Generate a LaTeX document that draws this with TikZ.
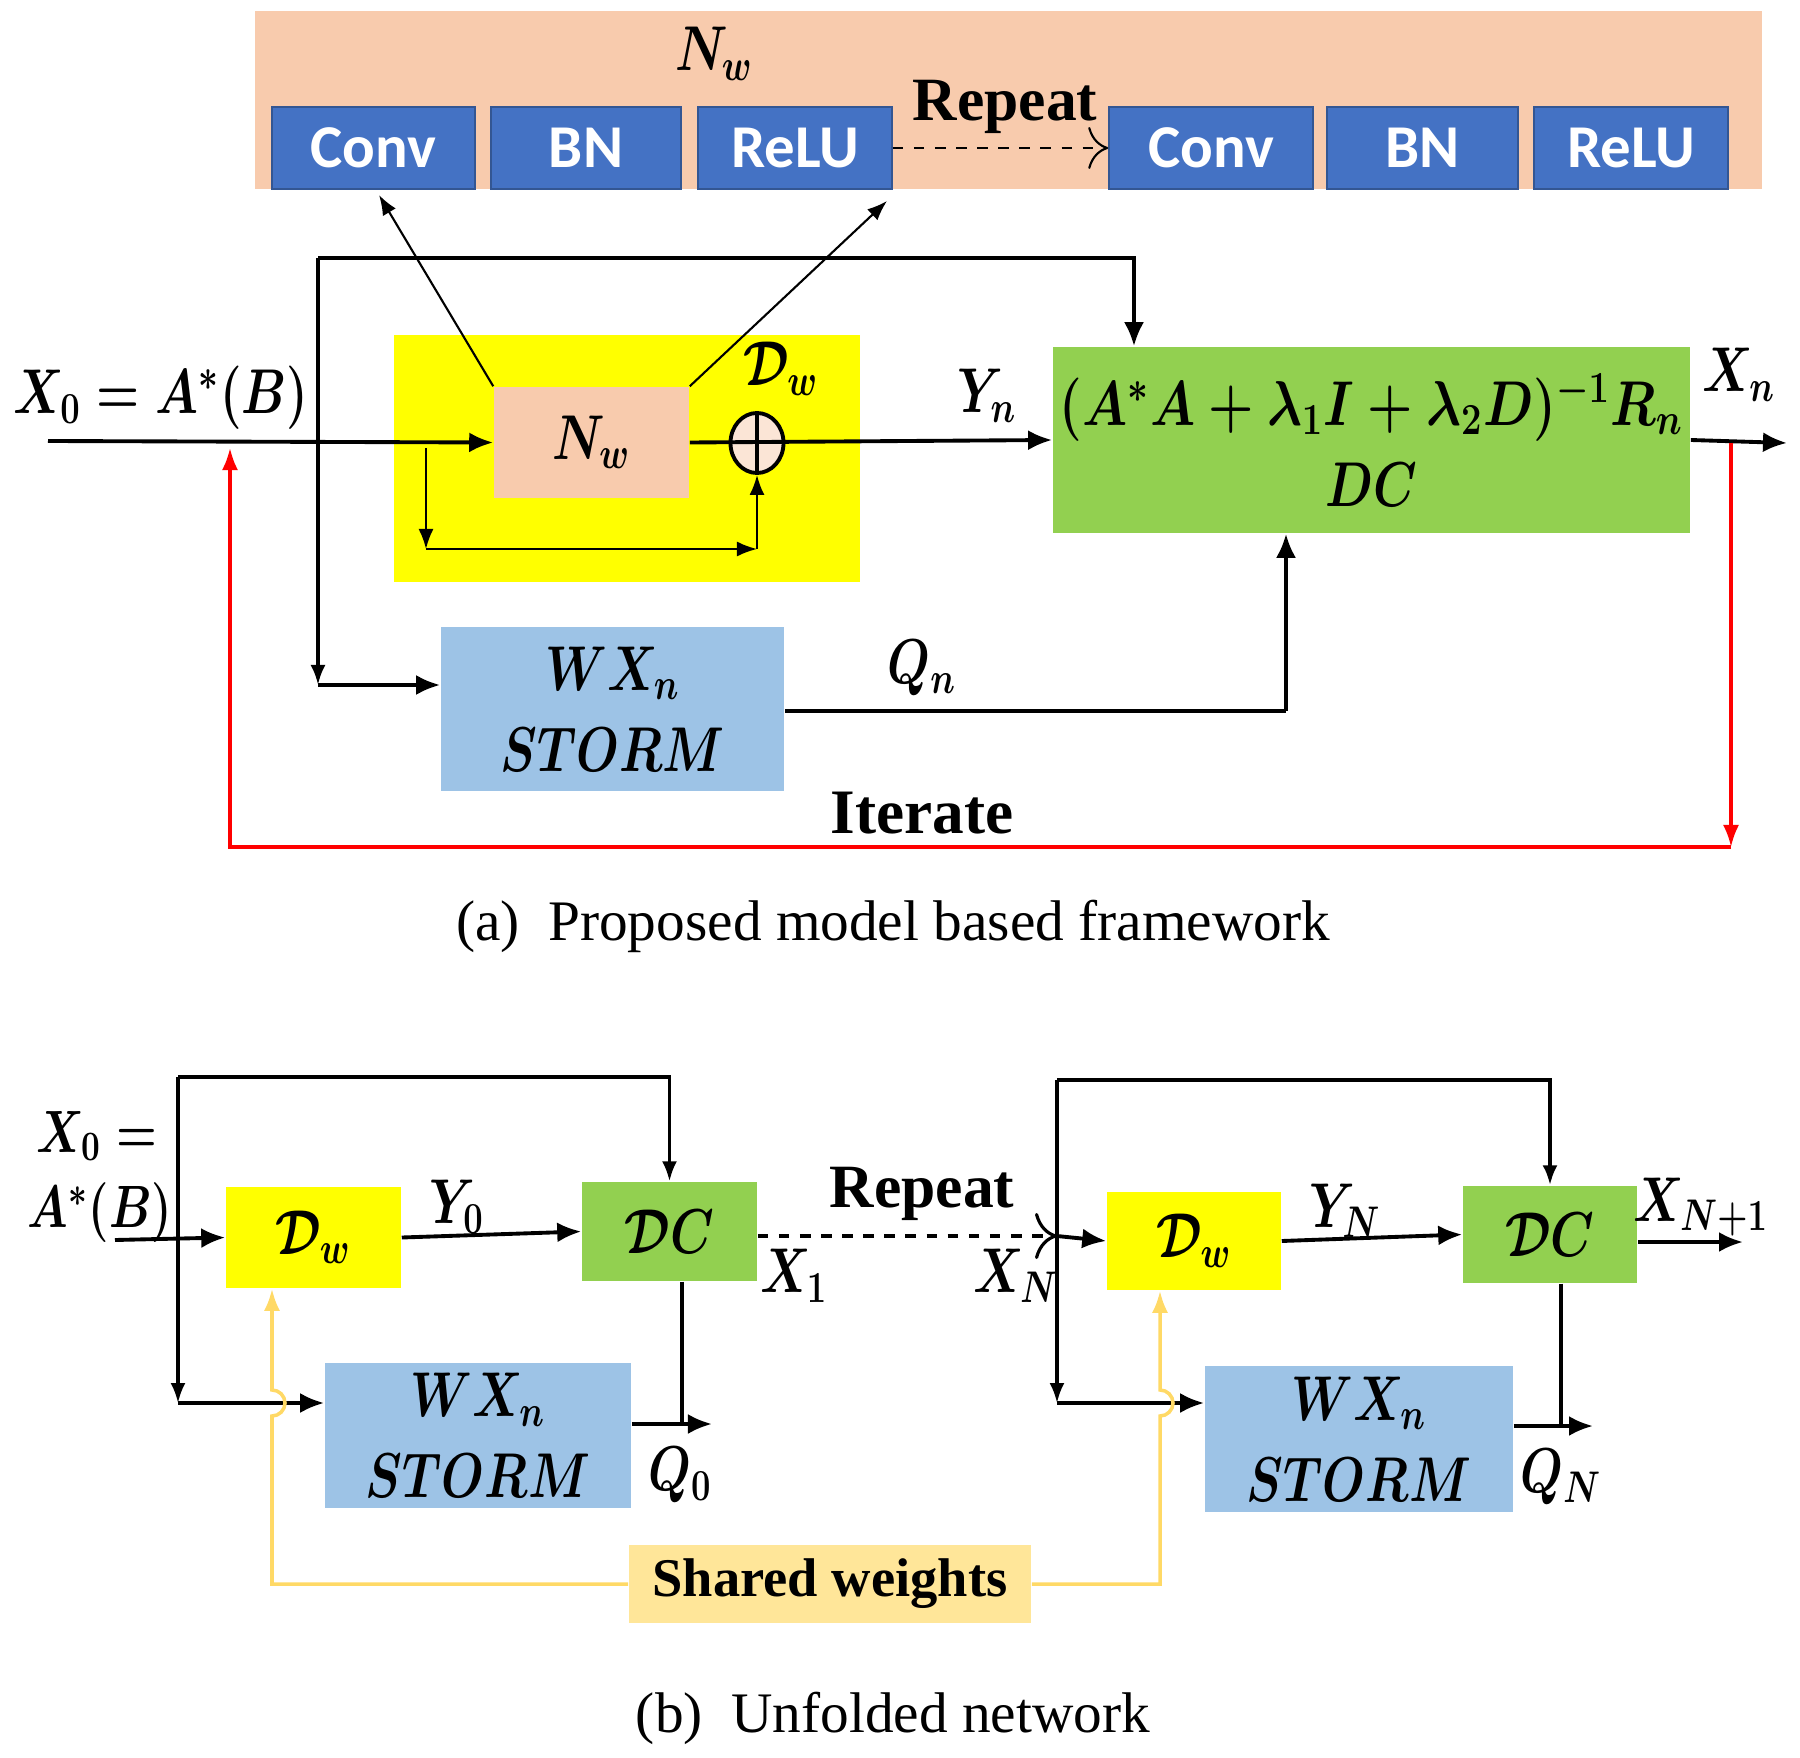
\RequirePackage{fix-cm}
\documentclass[tikz,border=0pt]{standalone}
\usepackage{fontspec}
\setmainfont{Liberation Serif}
\newfontfamily\calibri{Carlito}
\usetikzlibrary{arrows.meta,shapes.geometric,calc}
\definecolor{peach}{HTML}{F8CBAD}
\definecolor{convblue}{HTML}{4472C4}
\definecolor{dwyellow}{HTML}{FFFF00}
\definecolor{dcgreen}{HTML}{92D050}
\definecolor{stormblue}{HTML}{9DC3E6}
\definecolor{shareline}{HTML}{FFD966}
\definecolor{sharefill}{HTML}{FFE699}
\definecolor{pluspeach}{HTML}{FBE5D6}
\newcommand{\slim}[1]{\scalebox{0.78}[1]{#1}}
\begin{document}
\begin{tikzpicture}[x=0.01cm, y=-0.01cm,
  layer/.style={rectangle, fill=convblue, draw=convblue!75!black, minimum height=0.82cm, text=white, font=\calibri\bfseries\fontsize{17.3}{20}\selectfont},
  block/.style={rectangle, align=center, inner sep=0pt, font=\fontsize{18}{23}\selectfont\boldmath},
  lbl/.style={inner sep=1pt, font=\fontsize{18}{19}\selectfont\boldmath},
  word/.style={inner sep=1pt, font=\bfseries\fontsize{17.5}{20}\selectfont},
  captext/.style={inner sep=1pt, font=\fontsize{16.3}{19}\selectfont},
  arr/.style={line width=1.1pt, -{Latex[length=2.4mm,width=2mm]}},
  fine/.style={line width=0.6pt, -{Latex[length=2mm,width=1.5mm]}},
  iter/.style={red, line width=0.9pt, -{Latex[length=2.2mm,width=1.6mm]}},
  share/.style={shareline, line width=1pt, -{Latex[length=2.2mm,width=1.6mm]}}]
\useasboundingbox (0,0) rectangle (1800,1758);

% (a) proposed framework
\node (band) [rectangle, fill=peach, minimum width=15.07cm, minimum height=1.78cm] at (1008.5,100) {};
\node (conv1) [layer, minimum width=2.03cm] at (373.5,148) {Conv};
\node (bn1) [layer, minimum width=1.90cm] at (586,148) {BN};
\node (relu1) [layer, minimum width=1.94cm] at (795,148) {ReLU};
\node (conv2) [layer, minimum width=2.04cm] at (1211,148) {Conv};
\node (bn2) [layer, minimum width=1.91cm] at (1422.5,148) {BN};
\node (relu2) [layer, minimum width=1.94cm] at (1631,148) {ReLU};
\node (nwlbl) [lbl] at (714,54) {\slim{$N_w$}};
\node (rep1) [word] at (1005,107) {Repeat};
\draw[fine, dashed, -{To[length=2mm]}] (relu1.east) -- (conv2.west);

\node (dwbox) [rectangle, fill=dwyellow, minimum width=4.66cm, minimum height=2.47cm] at (627,458.5) {};
\node (nw) [block, fill=peach, minimum width=1.95cm, minimum height=1.11cm] at (591.5,442.5) {\slim{$N_w$}};
\node (oplus) [ellipse, draw, line width=1.1pt, fill=pluspeach, minimum width=0.53cm, minimum height=0.6cm, inner sep=0pt,
  path picture={\draw[line width=1pt] (path picture bounding box.north) -- (path picture bounding box.south);}] at (757,443) {};
\node (dwlbl) [lbl] at (781,369) {\slim{$\mathcal{D}_w$}};
\node (dc) [block, fill=dcgreen, minimum width=6.37cm, minimum height=1.86cm] at (1371.5,440)
  {\scalebox{0.82}[1]{$(A^*A+\lambda_1 I+\lambda_2 D)^{-1}R_n$}\\\slim{$DC$}};
\node (storm) [block, fill=stormblue, minimum width=3.43cm, minimum height=1.64cm] at (612.5,709) {\slim{$WX_n$}\\\slim{$STORM$}};

\node (x0lbl) [lbl] at (161,398) {\slim{$X_0=A^*(B)$}};
\node (ynlbl) [lbl] at (987,396) {\slim{$Y_n$}};
\node (xnlbl) [lbl] at (1739,375) {\slim{$X_n$}};
\node (qnlbl) [lbl] at (922,668) {\slim{$Q_n$}};
\node (iterlbl) [word, font=\bfseries\fontsize{18}{20}\selectfont] at (922,813) {Iterate};
\node (capa) [captext] at (893,926) {(a)\enspace Proposed model based framework};

\coordinate (in0) at (48,441);
\coordinate (fb) at (318,258);
\coordinate (fbs) at (318,685);
\coordinate (dcin) at (1134,258);
\coordinate (sk0) at (426,448);
\coordinate (sk) at (426,549);
\coordinate (cvtip) at (379,195);
\coordinate (relutip) at (887,201);
\coordinate (qx) at (1286,711);
\coordinate (xend) at (1787,443);
\coordinate (rr) at (1731,443);
\coordinate (rbot) at (1731,847);
\coordinate (rl) at (230,448);

\draw[arr] (in0) -- (nw.west);
\draw[arr] (nw.east) -- (dc.west);
\draw[arr] (dc.east) -- (xend);
\draw[fine] (nw.north west) -- (cvtip);
\draw[fine] (nw.north east) -- (relutip);
\draw[fine] (sk0) -- (sk);
\draw[fine] (sk) -- (sk -| oplus);
\draw[fine] (sk -| oplus) -- (oplus.south);
\draw[arr] (fb) -- (dcin) -- (dc.north -| dcin);
\draw[fine, line width=1pt] (fb) -- (fbs);
\draw[arr] (fbs) -- (fbs -| storm.west);
\draw[line width=1.1pt] (storm.east |- qx) -- (qx);
\draw[arr] (qx) -- (dc.south -| qx);
\draw[iter] (rr) -- (rbot);
\draw[iter] (rbot) -| (rl);

% (b) unfolded network
\node (dw1) [block, fill=dwyellow, minimum width=1.75cm, minimum height=1.01cm] at (313.5,1237.5) {\slim{$\mathcal{D}_w$}};
\node (dc1) [block, fill=dcgreen, minimum width=1.75cm, minimum height=0.99cm] at (669.5,1231.5) {\slim{$\mathcal{D}C$}};
\node (st1) [block, fill=stormblue, minimum width=3.06cm, minimum height=1.45cm] at (478,1435.5) {\slim{$WX_n$}\\\slim{$STORM$}};
\node (dw2) [block, fill=dwyellow, minimum width=1.74cm, minimum height=0.98cm] at (1194,1241) {\slim{$\mathcal{D}_w$}};
\node (dc2) [block, fill=dcgreen, minimum width=1.74cm, minimum height=0.97cm] at (1550,1234.5) {\slim{$\mathcal{D}C$}};
\node (st2) [block, fill=stormblue, minimum width=3.08cm, minimum height=1.46cm] at (1359,1439) {\slim{$WX_n$}\\\slim{$STORM$}};
\node (sw) [rectangle, fill=sharefill, minimum width=4.02cm, minimum height=0.78cm, font=\bfseries\fontsize{15.5}{18}\selectfont] at (830,1584) {Shared weights};

\node (x0b) [lbl, inner sep=0pt, font=\fontsize{17}{18}\selectfont\boldmath] at (97,1136) {\slim{$X_0=$}};
\node (absb) [lbl, inner sep=0pt, font=\fontsize{17}{18}\selectfont\boldmath] at (100,1213) {\slim{$A^*(B)$}};
\node (y0lbl) [lbl] at (457,1207) {\slim{$Y_0$}};
\node (x1lbl) [lbl] at (794,1276) {\slim{$X_1$}};
\node (rep2) [word] at (922,1194) {Repeat};
\node (xNlbl) [lbl] at (1016,1276) {\slim{$X_N$}};
\node (yNlbl) [lbl] at (1345,1211) {\slim{$Y_N$}};
\node (xN1lbl) [lbl] at (1701,1207) {\slim{$X_{N+1}$}};
\node (q0lbl) [lbl] at (680,1475) {\slim{$Q_0$}};
\node (qNlbl) [lbl] at (1561,1477) {\slim{$Q_N$}};
\node (capb) [captext] at (893,1718) {(b)\enspace Unfolded network};

\coordinate (in1) at (115,1240);
\coordinate (fa1) at (178,1077);
\coordinate (fb1) at (178,1403);
\coordinate (q1) at (682,1424);
\coordinate (q1e) at (712,1424);
\coordinate (xn) at (1057,1236);
\coordinate (fa2) at (1057,1080);
\coordinate (fb2) at (1057,1403);
\coordinate (q2) at (1561,1426);
\coordinate (q2e) at (1593,1426);
\coordinate (xout) at (1743,1242);
\coordinate (hl) at (272,1416);
\coordinate (hr) at (1160,1416);

\draw[arr] (in1) -- (dw1.west);
\draw[arr] (dw1.east) -- (dc1.west);
\draw[line width=0.9pt, -{Latex[length=2mm,width=1.5mm]}] (fa1) -| (dc1.north);
\draw[line width=0.9pt, -{Latex[length=2mm,width=1.5mm]}] (fa1) -- (fb1);
\draw[arr] (fb1) -- (fb1 -| st1.west);
\draw[line width=0.9pt] (dc1.south -| q1) -- (q1);
\draw[arr] (st1.east |- q1) -- (q1e);
\draw[line width=0.9pt, dashed, -{To[length=2.2mm]}] (dc1.east |- xn) -- (xn);
\draw[arr] (xn) -- (dw2.west);
\draw[arr] (dw2.east) -- (dc2.west);
\draw[arr] (dc2.east |- xout) -- (xout);
\draw[line width=1.1pt, -{Latex[length=2mm,width=1.5mm]}] (fa2) -| (dc2.north);
\draw[line width=0.9pt, -{Latex[length=2mm,width=1.5mm]}] (fa2) -- (fb2);
\draw[arr] (fb2) -- (fb2 -| st2.west);
\draw[line width=0.9pt] (dc2.south -| q2) -- (q2);
\draw[arr] (st2.east |- q2) -- (q2e);
\draw[share] (sw.west) -| (hl) arc[start angle=-90, end angle=90, radius=0.13cm] -- (dw1.south -| hl);
\draw[share] (sw.east) -| (hr) arc[start angle=-90, end angle=90, radius=0.13cm] -- (dw2.south -| hr);
\end{tikzpicture}
\end{document}
